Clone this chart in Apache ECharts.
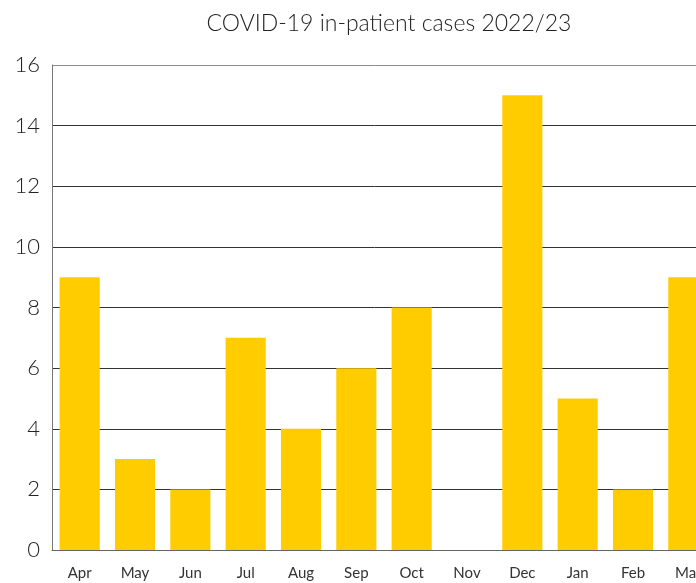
<!DOCTYPE html>
<html><head><meta charset="utf-8">
<script src="https://cdn.jsdelivr.net/npm/echarts@6/dist/echarts.min.js"></script>
<style>html,body{margin:0;padding:0;background:#fff}#c{width:696px;height:583px}</style>
</head><body><div id="c"></div>
<script>
const titleText = 'COVID-19 in-patient cases 2022/23';
const categories = ['Apr','May','Jun','Jul','Aug','Sep','Oct','Nov','Dec','Jan','Feb','Mar'];
const cases = [9,3,2,7,4,6,8,0,15,5,2,9];
const yMin = 0, yMax = 16, yStep = 2;

const chart = echarts.init(document.getElementById('c'));
chart.setOption({
  animation:false,
  backgroundColor:'#fff',
  title:{text:titleText,left:384,top:7,textAlign:'center',
    textStyle:{fontFamily:'Lato',fontWeight:300,fontSize:23,color:'#222'}},
  grid:{left:52,width:664,top:65,height:485,containLabel:false,outerBoundsMode:'none'},
  xAxis:{type:'category',data:categories,
    axisLine:{lineStyle:{color:'#666',width:1}},
    axisTick:{show:false},
    axisLabel:{fontFamily:'Lato',fontSize:15,color:'#333',margin:16}},
  yAxis:{type:'value',min:yMin,max:yMax,interval:yStep,
    axisLine:{show:true,lineStyle:{color:'#777',width:1}},
    axisTick:{show:false},
    splitLine:{lineStyle:{color:['#333','#333','#333','#333','#333','#333','#333','#333','#8c8c8c'],width:1}},
    axisLabel:{fontFamily:'Lato',fontWeight:300,fontSize:22,color:'#222',margin:12}},
  series:[{type:'bar',data:cases,barCategoryGap:'27.5%',
    itemStyle:{color:'#FFCC00'}}]
});
</script></body></html>
